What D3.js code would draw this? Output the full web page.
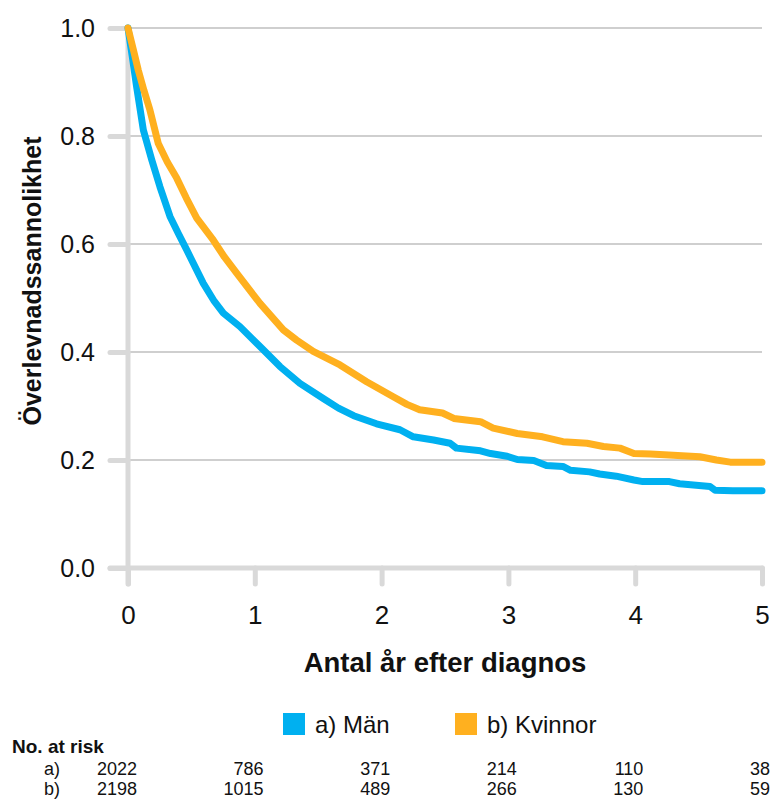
<!DOCTYPE html>
<html><head><meta charset="utf-8">
<script src="https://cdn.jsdelivr.net/npm/d3@7"></script>
<style>body{margin:0;background:#fff}svg{display:block;font-family:"Liberation Sans",Arial,sans-serif}</style>
</head><body><svg id="c" width="774" height="800"></svg>
<script>
const seriesNames = ["a) Män", "b) Kvinnor"];
const seriesColors = ["#00b0f0", "#ffb01f"];
const manT = [0, 0.035, 0.068, 0.121, 0.187, 0.252, 0.331, 0.40, 0.463, 0.594, 0.68, 0.752, 0.883, 1.041, 1.199, 1.356, 1.54, 1.66, 1.78, 1.96, 2.145, 2.25, 2.41, 2.54, 2.59, 2.78, 2.86, 2.99, 3.07, 3.20, 3.30, 3.43, 3.49, 3.64, 3.72, 3.85, 3.99, 4.06, 4.27, 4.35, 4.59, 4.63, 4.77, 5.0];
const manS = [1.0, 0.945, 0.891, 0.811, 0.756, 0.706, 0.651, 0.618, 0.589, 0.527, 0.494, 0.472, 0.447, 0.410, 0.373, 0.342, 0.314, 0.296, 0.282, 0.267, 0.256, 0.243, 0.237, 0.231, 0.222, 0.217, 0.212, 0.207, 0.201, 0.199, 0.190, 0.188, 0.181, 0.178, 0.174, 0.170, 0.163, 0.160, 0.160, 0.156, 0.151, 0.144, 0.143, 0.143];
const kvT = [0, 0.04, 0.081, 0.125, 0.173, 0.239, 0.31, 0.384, 0.46, 0.542, 0.673, 0.76, 0.857, 1.041, 1.225, 1.33, 1.461, 1.672, 1.882, 2.092, 2.20, 2.30, 2.48, 2.57, 2.78, 2.88, 3.07, 3.27, 3.43, 3.62, 3.75, 3.88, 3.99, 4.12, 4.30, 4.51, 4.64, 4.75, 5.0];
const kvS = [1.0, 0.962, 0.922, 0.885, 0.848, 0.786, 0.752, 0.722, 0.685, 0.648, 0.607, 0.576, 0.546, 0.490, 0.441, 0.422, 0.401, 0.376, 0.345, 0.317, 0.303, 0.293, 0.287, 0.277, 0.271, 0.259, 0.249, 0.243, 0.234, 0.231, 0.225, 0.222, 0.212, 0.211, 0.209, 0.206, 0.200, 0.196, 0.196];
const xTicks = [0, 1, 2, 3, 4, 5];
const yTicks = [0.0, 0.2, 0.4, 0.6, 0.8, 1.0];
const riskLabels = ["a)", "b)"];
const riskA = [2022, 786, 371, 214, 110, 38];
const riskB = [2198, 1015, 489, 266, 130, 59];

const svg = d3.select("#c");
const x = d3.scaleLinear().domain([0, 5]).range([128, 762]);
const y = d3.scaleLinear().domain([0, 1]).range([568, 28]);
const axisCol = "#d9d9d9";

// gridlines
svg.append("g").selectAll("line").data(yTicks.filter(d => d > 0)).join("line")
  .attr("x1", x(0)).attr("x2", x(5)).attr("y1", d => y(d)).attr("y2", d => y(d))
  .attr("stroke", "#bfbfbf").attr("stroke-width", 1.5);

// y axis
const yAx = svg.append("g").attr("transform", `translate(${x(0)},0)`)
  .call(d3.axisLeft(y).tickValues(yTicks).tickFormat(d3.format(".1f")).tickSize(18).tickPadding(15));
yAx.select(".domain").remove();
yAx.selectAll(".tick line").attr("stroke", axisCol).attr("stroke-width", 5).attr("stroke-linecap", "round");
yAx.selectAll(".tick text").attr("font-size", 25).attr("fill", "#111").attr("font-family", "Liberation Sans, Arial, sans-serif");
svg.append("line").attr("x1", x(0)).attr("x2", x(0)).attr("y1", y(1)).attr("y2", y(0) + 16)
  .attr("stroke", axisCol).attr("stroke-width", 5).attr("stroke-linecap", "round");

// x axis
const xAx = svg.append("g").attr("transform", `translate(0,${y(0)})`)
  .call(d3.axisBottom(x).tickValues(xTicks).tickFormat(d3.format("d")).tickSize(16).tickPadding(22));
xAx.select(".domain").remove();
xAx.selectAll(".tick line").attr("stroke", axisCol).attr("stroke-width", 5).attr("stroke-linecap", "round");
xAx.selectAll(".tick text").attr("font-size", 26).attr("fill", "#111").attr("font-family", "Liberation Sans, Arial, sans-serif");
svg.append("line").attr("x1", x(0) - 18).attr("x2", x(5)).attr("y1", y(0)).attr("y2", y(0))
  .attr("stroke", axisCol).attr("stroke-width", 5).attr("stroke-linecap", "round");

// titles
svg.append("text").attr("x", (x(0) + x(5)) / 2).attr("y", 672).attr("text-anchor", "middle")
  .attr("font-size", 27.5).attr("font-weight", "bold").attr("fill", "#111").text("Antal år efter diagnos");
svg.append("text").attr("transform", `translate(41,${(y(0) + y(1)) / 2 - 17}) rotate(-90)`).attr("text-anchor", "middle")
  .attr("font-size", 25).attr("font-weight", "bold").attr("fill", "#111").text("Överlevnadssannolikhet");

// curves
const line = d3.line().x(d => x(d[0])).y(d => y(d[1])).curve(d3.curveLinear);
const series = [d3.zip(manT, manS), d3.zip(kvT, kvS)];
svg.append("g").selectAll("path").data(series).join("path")
  .attr("d", line).attr("fill", "none").attr("stroke", (d, i) => seriesColors[i])
  .attr("stroke-width", 7).attr("stroke-linejoin", "round").attr("stroke-linecap", "round");

// legend
const legX = [283, 455];
const leg = svg.append("g").selectAll("g").data(seriesNames).join("g")
  .attr("transform", (d, i) => `translate(${legX[i]},713)`);
leg.append("rect").attr("width", 22).attr("height", 22).attr("fill", (d, i) => seriesColors[i]);
leg.append("text").attr("x", 32).attr("y", 20).attr("font-size", 24).attr("fill", "#111").text(d => d);

// risk table
svg.append("text").attr("x", 12).attr("y", 753).attr("font-size", 19).attr("font-weight", "bold").attr("fill", "#111").text("No. at risk");
const rx = d3.scaleLinear().domain([0, 5]).range([137, 770]);
const rows = [riskA, riskB];
rows.forEach((row, r) => {
  const yy = 775 + r * 20;
  svg.append("text").attr("x", 60).attr("y", yy).attr("text-anchor", "end").attr("font-size", 18).attr("fill", "#111").text(riskLabels[r]);
  svg.append("g").selectAll("text").data(row).join("text")
    .attr("x", (d, i) => rx(xTicks[i])).attr("y", yy).attr("text-anchor", "end")
    .attr("font-size", 18).attr("fill", "#111").text(d => d);
});
</script></body></html>
